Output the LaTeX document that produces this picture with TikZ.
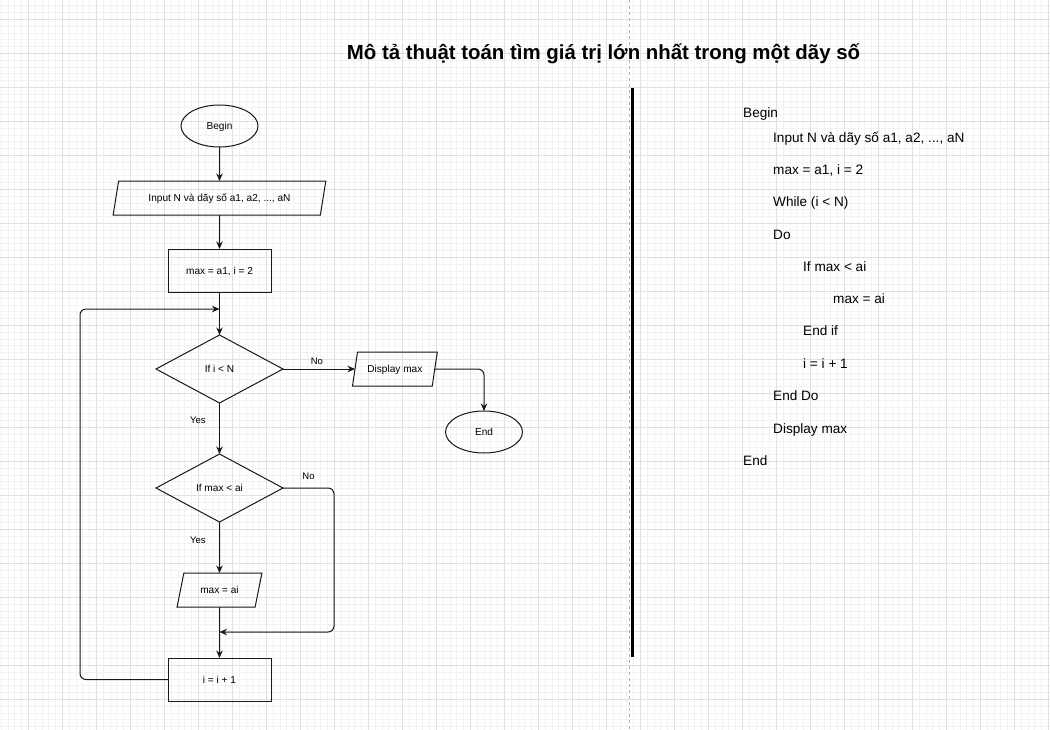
\documentclass[tikz,border=0pt]{standalone}
\usepackage{fontspec}
\setmainfont{Liberation Sans}
\usetikzlibrary{arrows.meta, positioning, shapes.geometric}

\begin{document}
\begin{tikzpicture}
[
    x=1pt, y=-1pt,
    node distance=34pt,
    minorgrid/.style={draw=black!5, line width=0.6pt},
    majorgrid/.style={draw=black!12, line width=0.8pt},
    terminal/.style={
        draw=black!90,
        ellipse,
        line width=1pt,
        minimum width=77pt,
        minimum height=42pt,
        inner sep=0pt, outer sep=0pt,
        text height=7.25pt, text depth=0pt,
        font=\fontsize{10.1}{12}\selectfont,
    },
    io/.style={
        draw=black!90,
        trapezium,
        trapezium left angle=63,
        trapezium right angle=117,
        trapezium stretches=true,
        line width=1pt,
        minimum height=34pt,
        inner sep=0pt, outer sep=0pt,
        text height=7.25pt, text depth=0pt,
        font=\fontsize{10.1}{12}\selectfont,
    },
    box/.style={
        draw=black!90,
        rectangle,
        line width=1pt,
        minimum width=103pt,
        minimum height=43pt,
        inner sep=0pt, outer sep=0pt,
        text height=7.25pt, text depth=0pt,
        font=\fontsize{10.1}{12}\selectfont,
    },
    decision/.style={
        draw=black!90,
        diamond,
        line width=1pt,
        minimum width=127pt,
        minimum height=68pt,
        inner sep=0pt, outer sep=0pt,
        text height=7.25pt, text depth=0pt,
        font=\fontsize{10.1}{12}\selectfont,
    },
    tag/.style={font=\fontsize{9.5}{11}\selectfont, text height=6.8pt, text depth=0pt},
    codeline/.style={anchor=west, inner sep=0pt, text height=9.75pt, text depth=0pt, font=\fontsize{13.6}{16}\selectfont},
    arrow/.style={-{Stealth[length=7.5pt,width=6.5pt]}, line width=1pt, draw=black!90}
]

% Background grid
\useasboundingbox (0,0) rectangle (1050,730);
\fill[white] (0,0) rectangle (1050,730);
\foreach \i in {0,...,154} \draw[minorgrid] ({1.1+6.8*\i},0) -- ++(0,730);
\foreach \i in {0,...,106} \draw[minorgrid] (0,{5.7+6.8*\i}) -- ++(1050,0);
\foreach \i in {0,...,30} \draw[majorgrid] ({28.3+34*\i},0) -- ++(0,730);
\foreach \i in {0,...,20} \draw[majorgrid] (0,{19.3+34*\i}) -- ++(1050,0);
\draw[black!30, line width=1pt, dash pattern=on 3pt off 3pt] (629.5,0) -- (629.5,730);

% Title
\node[font=\bfseries\fontsize{20.4}{24}\selectfont, text height=14.6pt, text depth=0pt] (title) at (603.5,52.5) {Mô tả thuật toán tìm giá trị lớn nhất trong một dãy số};

% Define the nodes
\node[terminal] (begin) at (219.5,126) {Begin};
\node[io, trapezium left angle=62, trapezium right angle=118, minimum width=213pt] (input) [below=of begin] {Input N và dãy số a1, a2, ..., aN};
\node[box] (init) [below=of input] {max = a1, i = 2};
\node[decision] (ifN) [below=43pt of init] {If i < N};
\node[decision] (ifmax) [below=51pt of ifN] {If max < ai};
\node[io, minimum width=85pt] (assign) [below=51pt of ifmax] {max = ai};
\node[box] (inc) [below=51pt of assign] {i = i + 1};
\node[io, minimum width=85pt] (display) [right=72pt of ifN] {Display max};
\node[terminal] (end) at (484,432) {End};

\coordinate[below=17pt of init] (loopin);
\coordinate[below=25pt of assign] (join);

% Main flow
\draw[arrow] (begin) -- (input);
\draw[arrow] (input) -- (init);
\draw[arrow] (init) -- (ifN);
\draw[arrow] (ifN) -- node[tag, pos=0.33, left, xshift=-10pt] {Yes} (ifmax);
\draw[arrow] (ifmax) -- node[tag, pos=0.35, left, xshift=-10pt] {Yes} (assign);
\draw[arrow] (assign) -- (inc);

% Branches
\draw[arrow] (ifN.east) -- node[tag, pos=0.47, above, yshift=1pt] {No} (display.west);
\draw[arrow, rounded corners=6pt] (display.east) -| (end.north);
\draw[arrow, rounded corners=6pt] (ifmax.east) -- node[tag, above, yshift=5pt] {No} ++(51,0) |- (join);

% Loop back
\draw[arrow, rounded corners=6pt] (inc.west) -- ++(-88,0) |- (loopin);

% Divider
\draw[line width=3pt] (632,88) -- (632,657);

% Pseudocode
\foreach \lvl/\ypos/\txt [count=\i] in {0/113/Begin, 1/138/{Input N và dãy số a1, a2, ..., aN}, 1/170/{max = a1, i = 2}, 1/202/{While (i < N)}, 1/235/Do, 2/267/{If max < ai}, 3/299/{max = ai}, 2/331/{End if}, 2/364/{i = i + 1}, 1/396/{End Do}, 1/429/{Display max}, 0/461/End}
    \node[codeline] (line\i) at ({743+30*\lvl},\ypos) {\txt};

\end{tikzpicture}
\end{document}
